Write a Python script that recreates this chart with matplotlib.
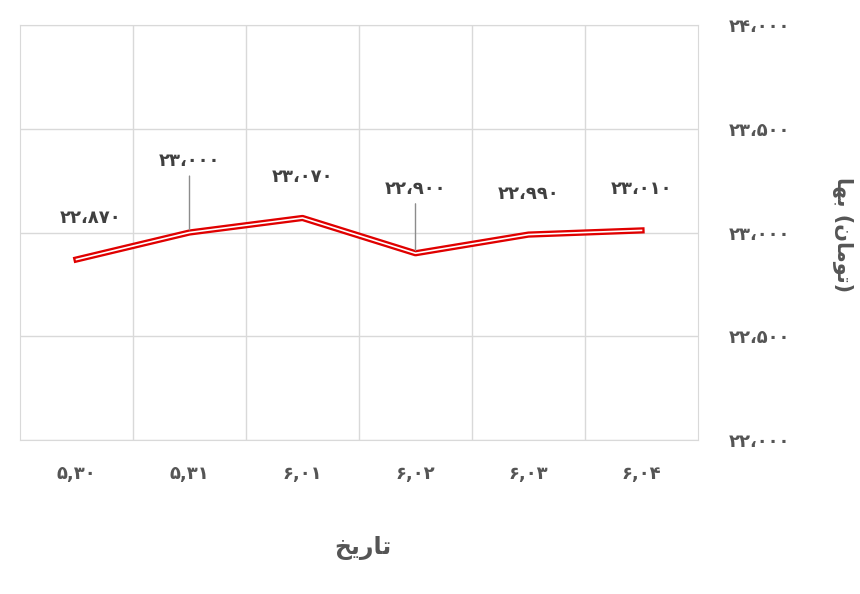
import matplotlib
matplotlib.use("Agg")
import matplotlib.pyplot as plt

fa = str.maketrans("0123456789", "۰۱۲۳۴۵۶۷۸۹")
def pd(s): return s.translate(fa)

categories = ["5,30", "5,31", "6,01", "6,02", "6,03", "6,04"]
values = [22870, 23000, 23070, 22900, 22990, 23010]
yticks = [22000, 22500, 23000, 23500, 24000]
offsets = [(14, 32), (0, 62), (0, 32), (0, 55), (0, 32), (0, 32)]
leaders = [False, True, False, True, False, False]

fig = plt.figure(figsize=(8.6, 5.94), dpi=100)
ax = fig.add_axes([20/860, 1-440/594, 678/860, 415/594])
x = list(range(len(values)))
ax.plot(x, values, color="#e00000", lw=4.5, zorder=3)
ax.plot(x, values, color="white", lw=1.2, zorder=4)
ax.set_xlim(-0.5, 5.5)
ax.set_ylim(22000, 24000)
ax.set_xticks([i + 0.5 for i in range(5)], minor=True)
ax.set_xticks(x)
ax.set_xticklabels([pd(c) for c in categories], fontsize=13, fontweight="bold", color="#555555")
ax.yaxis.tick_right()
ax.set_yticks(yticks)
ax.set_yticklabels([pd(f"{v:,}".replace(",", "،")) for v in yticks], fontsize=13, fontweight="bold", color="#555555")
ax.tick_params(which="both", length=0, pad=18)
ax.tick_params(axis="y", pad=22)
ax.grid(True, which="minor", axis="x", color="#d9d9d9", lw=1)
ax.grid(True, which="major", axis="y", color="#d9d9d9", lw=1)
for s in ax.spines.values():
    s.set_color("#d9d9d9")

for i, v in enumerate(values):
    dx, dy = offsets[i]
    ax.annotate(pd(f"{v:,}".replace(",", "،")), (i, v), xytext=(dx * 0.72, dy * 0.72),
                textcoords="offset points", ha="center", va="bottom",
                fontsize=13, fontweight="bold", color="#404040",
                arrowprops=dict(arrowstyle="-", color="#8c8c8c", lw=1, shrinkA=2, shrinkB=2) if leaders[i] else None)

fam = ["DejaVu Sans"]
xlabel = "\uFEA6\uFBFE\uFEAD\uFE8E\uFE97"
ylabel = "\uFE8E\uFEEC\uFE91 (\uFEE5\uFE8E\uFEE3\uFEEE\uFE97)"
fig.text(363/860, 1-548/594, xlabel, ha="center", va="center", fontsize=17, fontweight="bold", color="#555555", family=fam)
fig.text(842/860, 1-235/594, ylabel, ha="center", va="center", rotation=270, fontsize=15, fontweight="bold", color="#555555", family=fam)
fig.savefig("out.png", dpi=100)
